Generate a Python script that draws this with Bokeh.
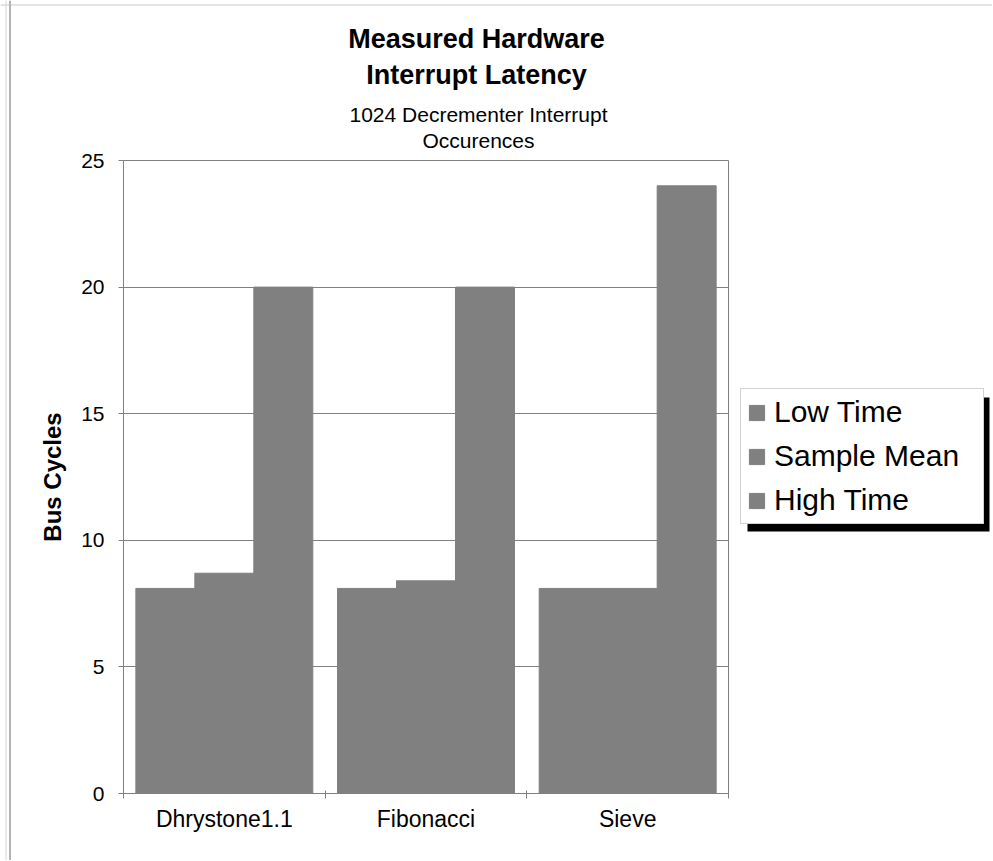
from bokeh.plotting import figure
from bokeh.models import (ColumnDataSource, Range1d, LinearAxis, FixedTicker, Legend,
                          LegendItem, Label, BoxAnnotation, Grid, Span)
from bokeh.transform import dodge
from bokeh.embed import file_html
from bokeh.resources import INLINE

# ---- data ----
programs = ["Dhrystone1.1", "Fibonacci", "Sieve"]
series = ["Low Time", "Sample Mean", "High Time"]
low_time = [8.1, 8.1, 8.1]
sample_mean = [8.7, 8.4, 8.1]
high_time = [20, 20, 24]
y_ticks = [0, 5, 10, 15, 20, 25]

title_lines = ["Measured Hardware", "Interrupt Latency"]
subtitle_lines = ["1024 Decrementer Interrupt", "Occurences"]
y_label = "Bus Cycles"

# ---- style / layout ----
FONT = "Liberation Sans"
GRAY = "#808080"
W, H = 992, 860
PL, PR, PT, PB = 123, 728, 160, 793   # plot area in pixels
n = len(programs)
Y_MAX = 25
xpp = n / (PR - PL)
ypp = Y_MAX / (PB - PT)


def cx(px):
    return (px - PL) * xpp


def cy(py):
    return (PB - py) * ypp


p = figure(width=W, height=H, x_range=Range1d(cx(0), cx(W)), y_range=Range1d(cy(H), cy(0)),
           output_backend="svg", toolbar_location=None, x_axis_location=None,
           y_axis_location=None, min_border=0)
p.background_fill_color = "white"
p.border_fill_color = "white"
p.outline_line_color = None
for g in p.grid:
    g.visible = False

# grid lines across the plot area only
ygrid = Grid(dimension=1, ticker=FixedTicker(ticks=y_ticks), grid_line_color=GRAY,
             bounds=(0, Y_MAX))
if "cross_bounds" in ygrid.properties():
    ygrid.cross_bounds = (0, n)
    p.add_layout(ygrid)
else:
    p.segment(x0=[0] * len(y_ticks), x1=[n] * len(y_ticks), y0=y_ticks, y1=y_ticks,
              line_color=GRAY, level="underlay")

centres = [i + 0.5 for i in range(n)]
src = ColumnDataSource(dict(programs=programs, pos=centres, low=low_time,
                            mean=sample_mean, high=high_time))
bw = 0.2925
renderers = []
for off, col in zip([-bw, 0.0, bw], ["low", "mean", "high"]):
    r = p.vbar(x=dodge("pos", off), top=col, width=bw, source=src,
               fill_color=GRAY, line_color=GRAY, line_width=1)
    renderers.append(r)

# y axis
yaxis = LinearAxis(fixed_location=0, bounds=(0, Y_MAX), ticker=FixedTicker(ticks=y_ticks),
                   axis_line_color=GRAY, major_tick_line_color=GRAY, major_tick_in=0,
                   major_tick_out=5, minor_tick_line_color=None,
                   major_label_text_font=FONT, major_label_text_font_size="21px",
                   major_label_text_color="black", major_label_standoff=14,
                   axis_label=y_label, axis_label_text_font=FONT,
                   axis_label_text_font_size="24px", axis_label_text_font_style="bold",
                   axis_label_text_color="black", axis_label_standoff=12)
p.add_layout(yaxis, "left")

# x axis: ticks at category boundaries, labels at centres
edge_ticks = list(range(n + 1))
tick_axis = LinearAxis(fixed_location=0, bounds=(0, n), ticker=FixedTicker(ticks=edge_ticks),
                       major_label_overrides={t: "" for t in edge_ticks},
                       major_label_text_font_size="0px", major_label_standoff=0,
                       axis_line_color=GRAY, major_tick_line_color=GRAY,
                       major_tick_in=3, major_tick_out=5, minor_tick_line_color=None)
p.add_layout(tick_axis, "below")
cat_axis = LinearAxis(fixed_location=0, ticker=FixedTicker(ticks=centres),
                      major_label_overrides={c: name for c, name in zip(centres, programs)},
                      axis_line_color=None, major_tick_line_color=None, major_tick_out=0,
                      major_tick_in=0, minor_tick_line_color=None,
                      major_label_text_font=FONT, major_label_text_font_size="23px",
                      major_label_text_color="black", major_label_standoff=12)
p.add_layout(cat_axis, "below")

# right border of the plot area
right_edge = LinearAxis(fixed_location=n, bounds=(0, Y_MAX), ticker=FixedTicker(ticks=[]),
                        axis_line_color=GRAY, major_tick_line_color=None,
                        minor_tick_line_color=None, major_label_text_font_size="0px")
p.add_layout(right_edge, "right")

# sheet frame lines
p.add_layout(Span(location=cy(4.5), dimension="width", line_color="#c8c8c8", line_width=1))
p.add_layout(Span(location=cx(5.5), dimension="height", line_color="#d4d4d4", line_width=1))
p.add_layout(Span(location=cx(9.5), dimension="height", line_color="#b4b4b4", line_width=2))

# titles
for txt, py in zip(title_lines, [38, 74]):
    p.add_layout(Label(x=cx(476), y=cy(py), text=txt, text_align="center",
                       text_baseline="alphabetic", text_font=FONT, text_font_size="27px",
                       text_font_style="bold", text_color="black"))
for txt, py in zip(subtitle_lines, [114, 140]):
    p.add_layout(Label(x=cx(478), y=cy(py), text=txt, text_align="center",
                       text_baseline="alphabetic", text_font=FONT, text_font_size="21px",
                       text_color="black"))

# legend shadow + legend
p.add_layout(BoxAnnotation(left=cx(747), right=cx(989), top=cy(397), bottom=cy(531),
                           fill_color="black", fill_alpha=1, line_color=None))
legend = Legend(items=[LegendItem(label=s, renderers=[r]) for s, r in zip(series, renderers)],
                location=(740, H - 524), label_text_font=FONT,
                label_text_font_size="30px", label_text_color="black",
                glyph_width=19, glyph_height=19, label_standoff=8, padding=6, spacing=10,
                margin=0, label_height=34, label_width=203,
                border_line_color="#a6a6a6", background_fill_color="white",
                background_fill_alpha=1)
p.add_layout(legend)

open("out.html", "w").write(file_html(p, INLINE))
